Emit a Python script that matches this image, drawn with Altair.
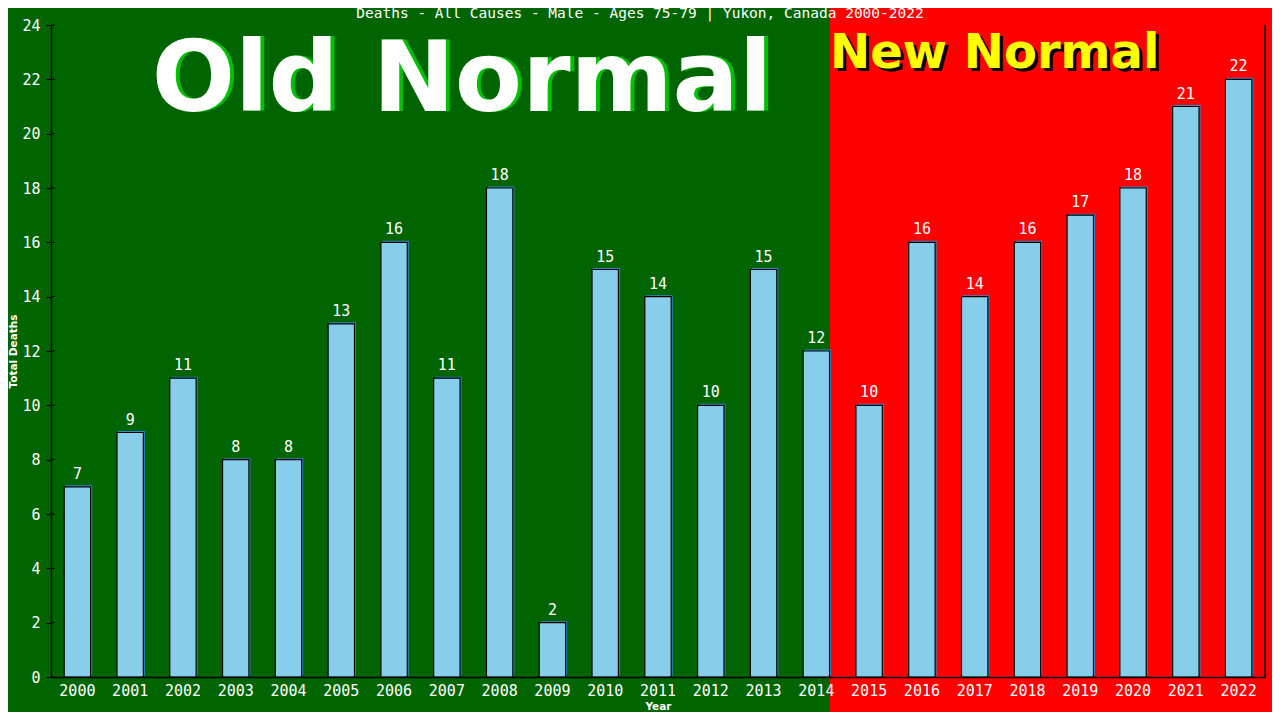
import altair as alt
import pandas as pd

years = [str(y) for y in range(2000, 2023)]
deaths = [7, 9, 11, 8, 8, 13, 16, 11, 18, 2, 15, 14, 10, 15, 12, 10, 16, 14, 16, 17, 18, 21, 22]
y_ticks = list(range(0, 25, 2))

title_text = "Deaths - All Causes - Male - Ages 75-79 | Yukon, Canada 2000-2022"
old_label = ["Old Normal"]
new_label = ["New Normal"]

df = pd.DataFrame({"Year": years, "Deaths": deaths})

W, H = 1214, 652
mono = "DejaVu Sans Mono"

xenc = alt.X("Year:O", sort=years, title="Year",
             scale=alt.Scale(paddingInner=0.5, paddingOuter=0.25),
             axis=alt.Axis(labelAngle=0, ticks=False, labelPadding=6,
                           labelFont=mono, labelFontSize=15, labelColor="white",
                           titleFont="DejaVu Sans", titleFontSize=10.5, titleFontWeight="bold",
                           titleColor="white", titlePadding=3,
                           domainColor="black", domainWidth=1.5, zindex=1))
yscale = alt.Scale(domain=[0, 24], nice=False)
yenc = alt.Y("Deaths:Q", title="Total Deaths", scale=yscale,
             axis=alt.Axis(values=y_ticks, grid=False, tickSize=5,
                           tickColor="black", labelPadding=6,
                           labelFont=mono, labelFontSize=15, labelColor="white",
                           titleFont="DejaVu Sans", titleFontSize=10.5, titleFontWeight="bold",
                           titleColor="white", titlePadding=3,
                           domainColor="black", domainWidth=1.5, zindex=1))

base = alt.Chart(df)

red_bg = alt.Chart(pd.DataFrame({"k": [0]})).mark_rect(color="#ff0000").encode(
    x=alt.value(779), x2=alt.value(1300), y=alt.value(-17), y2=alt.value(700))

old_shadow = alt.Chart(pd.DataFrame({"t": old_label})).mark_text(
    font="DejaVu Sans", fontSize=98, fontWeight="bold", color="#00c000",
    align="center", baseline="alphabetic", dx=4).encode(
    text="t:N", x=alt.value(411), y=alt.value(86))
old_main = alt.Chart(pd.DataFrame({"t": old_label})).mark_text(
    font="DejaVu Sans", fontSize=98, fontWeight="bold", color="white",
    align="center", baseline="alphabetic").encode(
    text="t:N", x=alt.value(411), y=alt.value(86))

new_shadow = alt.Chart(pd.DataFrame({"t": new_label})).mark_text(
    font="DejaVu Sans", fontSize=48, fontWeight="bold", color="black",
    align="left", baseline="alphabetic", dx=3, dy=3).encode(
    text="t:N", x=alt.value(779), y=alt.value(43))
new_main = alt.Chart(pd.DataFrame({"t": new_label})).mark_text(
    font="DejaVu Sans", fontSize=48, fontWeight="bold", color="#ffff00",
    align="left", baseline="alphabetic").encode(
    text="t:N", x=alt.value(779), y=alt.value(43))

bar_shadow = base.mark_bar(color="#3b86c6", xOffset=1.5, yOffset=-1.5).encode(x=xenc, y=yenc)
bars = base.mark_bar(color="#87ceeb", stroke="black", strokeWidth=1.2).encode(x=xenc, y=yenc)
labels = base.mark_text(font=mono, fontSize=15, color="white", baseline="alphabetic",
                        dy=-8).encode(x=xenc, y=yenc, text="Deaths:Q")

inner_ticks = alt.Chart(pd.DataFrame({"v": y_ticks})).mark_rule(color="black", strokeWidth=1).encode(
    y=alt.Y("v:Q", scale=yscale), x=alt.value(0), x2=alt.value(4))

right_rule = alt.Chart(pd.DataFrame({"k": [0]})).mark_rule(color="black", strokeWidth=1.5).encode(
    x=alt.value(W), y=alt.value(0), y2=alt.value(H))

chart = alt.layer(red_bg, old_shadow, old_main, new_shadow, new_main,
                  bar_shadow, bars, labels, inner_ticks, right_rule).properties(
    width=W, height=H,
    padding={"left": 43, "top": 17, "right": 7, "bottom": 35},
    autosize=alt.AutoSizeParams(type="none"),
    title=alt.TitleParams(title_text, font=mono, fontSize=14.5, fontWeight="normal",
                          color="white", anchor="middle", frame="group", offset=-13,
                          dx=-18, zindex=1),
).configure(background="#006400").configure_view(stroke=None)

chart.save("out.html", embed_options={"renderer": "svg", "actions": False})
